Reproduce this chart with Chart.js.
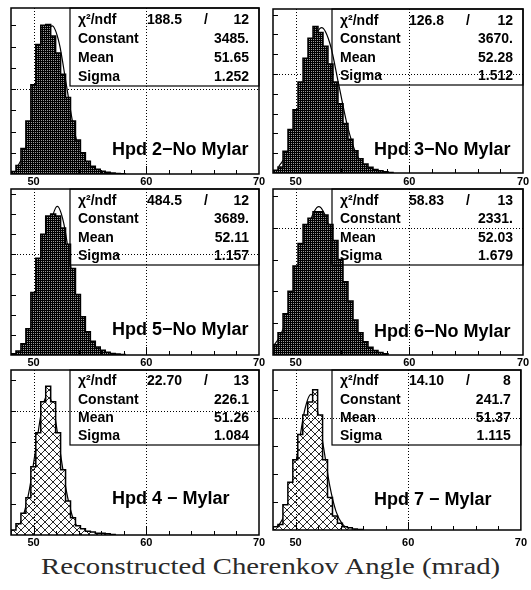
<!DOCTYPE html>
<html>
<head>
<meta charset="utf-8">
<script src="https://cdn.jsdelivr.net/npm/chart.js@4.4.0/dist/chart.umd.min.js"></script>
<style>
  body { margin: 0; width: 531px; height: 590px; background: #fff; position: relative; overflow: hidden; }
  canvas { position: absolute; }
  #xtitle { position: absolute; left: 5px; top: 554px; width: 531px; text-align: center;
    font: 23px "Liberation Serif", serif; color: #2a2a2a; }
  #xtitle span { display: inline-block; transform: scaleX(1.25); }
</style>
</head>
<body>
<div id="xtitle"><span>Reconstructed Cherenkov Angle (mrad)</span></div>
<script>
// bin edges of all histograms (mrad)
const binEdges = [48.00, 48.44, 48.88, 49.32, 49.76, 50.20, 50.64, 51.08, 51.52, 51.96, 52.40, 52.84,
  53.28, 53.72, 54.16, 54.60, 55.04, 55.48, 55.92, 56.36, 56.80, 57.24, 57.68, 58.12, 58.56];
const xLabelTicks = [50, 60, 70];
const xGridValues = [50, 60];
const xMajorTicks = [50, 60];
const xMinorTicks = [52, 54, 56, 58, 62, 64, 66, 68];

// counts per bin
const hpd2Counts = [60, 200, 600, 1250, 2100, 3050, 3500, 3520, 3250, 2850, 2350, 1800, 1250, 800, 500, 300, 180, 110, 65, 40, 22, 12, 6];
const hpd3Counts = [70, 150, 550, 1100, 1600, 2300, 2900, 3400, 3700, 3550, 3200, 2750, 2300, 1750, 1250, 850, 560, 360, 230, 145, 90, 55, 30, 15];
const hpd5Counts = [30, 100, 280, 650, 1550, 2400, 3000, 3450, 3500, 3450, 3150, 2750, 2150, 1500, 950, 580, 340, 200, 120, 70, 40, 22, 12];
const hpd6Counts = [160, 350, 650, 1000, 1400, 1750, 2050, 2150, 2250, 2250, 2200, 2050, 1800, 1500, 1150, 850, 550, 350, 210, 120, 70, 40, 20];
const hpd4Counts = [8, 18, 35, 60, 110, 165, 215, 240, 215, 165, 105, 55, 28, 15, 10, 6, 5, 3, 3, 2, 1];
const hpd7Counts = [6, 10, 45, 85, 125, 170, 205, 228, 250, 205, 125, 58, 25, 12, 6, 4, 2, 1];

// fitted curves
const hpd2FitX = [48.52, 49.15, 49.77, 50.40, 51.02, 51.65, 52.28, 52.90, 53.53, 54.15, 54.78, 55.41];
const hpd2FitY = [153, 472, 1132, 2114, 3076, 3485, 3076, 2114, 1132, 472, 153, 39];
const hpd3FitX = [48.50, 49.26, 50.01, 50.77, 51.52, 52.28, 53.04, 53.79, 54.55, 55.30, 56.06, 56.82];
const hpd3FitY = [161, 497, 1192, 2226, 3239, 3670, 3239, 2226, 1192, 497, 161, 41];
const hpd5FitX = [48.64, 49.22, 49.80, 50.37, 50.95, 51.53, 52.11, 52.69, 53.27, 53.85, 54.42, 55.00, 55.58];
const hpd5FitY = [41, 162, 499, 1198, 2237, 3256, 3689, 3256, 2237, 1198, 499, 162, 41];
const hpd6FitX = [48.00, 48.67, 49.51, 50.35, 51.19, 52.03, 52.87, 53.71, 54.55, 55.39, 56.23, 57.07];
const hpd6FitY = [131, 315, 757, 1414, 2057, 2331, 2057, 1414, 757, 315, 102, 26];
const hpd4FitX = [48.01, 48.55, 49.09, 49.63, 50.18, 50.72, 51.26, 51.80, 52.34, 52.89, 53.43, 53.97, 54.51];
const hpd4FitY = [2.5, 10, 31, 73, 137, 200, 226, 200, 137, 73, 31, 10, 2.5];
const hpd7FitX = [48.03, 48.58, 49.14, 49.70, 50.25, 50.81, 51.37, 51.93, 52.49, 53.04, 53.60, 54.16, 54.72];
const hpd7FitY = [2.7, 10.6, 32.7, 78.5, 146.6, 213.3, 241.7, 213.3, 146.6, 78.5, 32.7, 10.6, 2.7];

// stat box: chi2, ndf, constant, mean, sigma
const statLabels = ["Constant", "Mean", "Sigma"];
const hpd2Stats = ["188.5", "12", "3485.", "51.65", "1.252"];
const hpd3Stats = ["126.8", "12", "3670.", "52.28", "1.512"];
const hpd5Stats = ["484.5", "12", "3689.", "52.11", "1.157"];
const hpd6Stats = ["58.83", "13", "2331.", "52.03", "1.679"];
const hpd4Stats = ["22.70", "13", "226.1", "51.26", "1.084"];
const hpd7Stats = ["14.10", "8", "241.7", "51.37", "1.115"];

const panels = [
  { name: "Hpd 2\u2212No Mylar", counts: hpd2Counts, fitX: hpd2FitX, fitY: hpd2FitY, stats: hpd2Stats, mylar: false,
    frame: [11, 8, 259, 174], yMax: 3906, yStep: 500, yGrid: 2000, boxH: 78, labelUp: 19, tickPad: 1 },
  { name: "Hpd 3\u2212No Mylar", counts: hpd3Counts, fitX: hpd3FitX, fitY: hpd3FitY, stats: hpd3Stats, mylar: false,
    frame: [273, 9, 523, 173], yMax: 4141, yStep: 500, yGrid: 2500, boxH: 76, labelUp: 18, tickPad: 2 },
  { name: "Hpd 5\u2212No Mylar", counts: hpd5Counts, fitX: hpd5FitX, fitY: hpd5FitY, stats: hpd5Stats, mylar: false,
    frame: [11, 189, 259, 355], yMax: 4121, yStep: 500, yGrid: 2500, boxH: 76, labelUp: 20, tickPad: 1 },
  { name: "Hpd 6\u2212No Mylar", counts: hpd6Counts, fitX: hpd6FitX, fitY: hpd6FitY, stats: hpd6Stats, mylar: false,
    frame: [273, 189, 523, 355], yMax: 2608, yStep: 500, yGrid: 2000, boxH: 76, labelUp: 18, tickPad: 1 },
  { name: "Hpd 4 \u2212 Mylar", counts: hpd4Counts, fitX: hpd4FitX, fitY: hpd4FitY, stats: hpd4Stats, mylar: true,
    frame: [11, 370, 259, 535], yMax: 266, yStep: 50, yGrid: 200, boxH: 75, labelUp: 31, tickPad: 1 },
  { name: "Hpd 7 \u2212 Mylar", counts: hpd7Counts, fitX: hpd7FitX, fitY: hpd7FitY, stats: hpd7Stats, mylar: true,
    frame: [273, 370, 523, 530], yMax: 285, yStep: 50, yGrid: 200, boxH: 75, labelUp: 25, tickPad: 6 }
];

const padL = 10, padR = 10, padT = 4, axisH = 16;
const boldFont = (size) => `bold ${size}px "Liberation Sans", Arial, sans-serif`;

function makePattern(mylar) {
  const c = document.createElement("canvas");
  const g = c.getContext("2d");
  if (!mylar) {
    c.width = 2; c.height = 2;
    g.fillStyle = "#000"; g.fillRect(0, 0, 2, 2);
    g.fillStyle = "#9a9a9a"; g.fillRect(0, 0, 1, 1);
  } else {
    c.width = 8; c.height = 8;
    g.fillStyle = "#fff"; g.fillRect(0, 0, 8, 8);
    g.strokeStyle = "#111"; g.lineWidth = 0.9;
    g.beginPath();
    g.moveTo(-1, -1); g.lineTo(9, 9);
    g.moveTo(9, -1); g.lineTo(-1, 9);
    g.stroke();
  }
  return g.createPattern(c, "repeat");
}

const rootPad = {
  id: "rootPad",
  afterDatasetsDraw(chart, args, opts) {
    const p = opts.panel;
    const { ctx, chartArea: a, scales } = chart;
    ctx.save();
    ctx.strokeStyle = "#000";

    // stat box (transparent, as in the original)
    const bx = a.left + 59, by = a.top, bw = a.right - bx;
    ctx.lineWidth = 1.2;
    ctx.strokeRect(bx, by, bw, p.boxH);
    ctx.fillStyle = "#000";
    ctx.font = boldFont(14);
    const rowY = [0.205, 0.45, 0.695, 0.935].map(f => by + p.boxH * f);
    ctx.textAlign = "left";
    ctx.fillText("\u03c7\u00b2/ndf", bx + 8, rowY[0]);
    ctx.fillText(p.stats[0], bx + 77, rowY[0]);
    ctx.fillText("/", bx + 134, rowY[0]);
    statLabels.forEach((s, i) => ctx.fillText(s, bx + 8, rowY[i + 1]));
    ctx.textAlign = "right";
    ctx.fillText(p.stats[1], a.right - 10, rowY[0]);
    for (let i = 2; i < 5; i++) ctx.fillText(p.stats[i], a.right - 10, rowY[i - 1]);

    // pad label
    ctx.textAlign = "left";
    ctx.font = boldFont(18);
    ctx.fillText(p.name, a.left + 101, a.bottom - p.labelUp);

    // dotted grid
    ctx.lineWidth = 1;
    ctx.setLineDash([1, 2]);
    ctx.beginPath();
    xGridValues.forEach(v => {
      const x = Math.round(scales.x.getPixelForValue(v)) + 0.5;
      ctx.moveTo(x, a.top); ctx.lineTo(x, a.bottom);
    });
    const gy = Math.round(scales.y.getPixelForValue(p.yGrid)) + 0.5;
    ctx.moveTo(a.left, gy); ctx.lineTo(a.right, gy);
    ctx.stroke();
    ctx.setLineDash([]);

    // tick marks inside the frame
    ctx.beginPath();
    for (let v = p.yStep; v < p.yMax; v += p.yStep) {
      const y = Math.round(scales.y.getPixelForValue(v)) + 0.5;
      ctx.moveTo(a.left, y); ctx.lineTo(a.left + 5, y);
    }
    xMajorTicks.forEach(v => {
      const x = Math.round(scales.x.getPixelForValue(v)) + 0.5;
      ctx.moveTo(x, a.bottom); ctx.lineTo(x, a.bottom - 8);
    });
    xMinorTicks.forEach(v => {
      const x = Math.round(scales.x.getPixelForValue(v)) + 0.5;
      ctx.moveTo(x, a.bottom); ctx.lineTo(x, a.bottom - 4);
    });
    ctx.stroke();

    // frame
    ctx.lineWidth = 1.5;
    ctx.strokeRect(a.left, a.top, a.width, a.height);
    ctx.restore();
  }
};

panels.forEach((p) => {
  const [l, t, r, b] = p.frame;
  const canvas = document.createElement("canvas");
  canvas.width = (r - l) + padL + padR;
  canvas.height = (b - t) + padT + axisH;
  canvas.style.left = (l - padL) + "px";
  canvas.style.top = (t - padT) + "px";
  document.body.appendChild(canvas);

  const histPoints = [{ x: binEdges[0], y: 0 }]
    .concat(p.counts.map((c, i) => ({ x: binEdges[i], y: c })))
    .concat([{ x: binEdges[p.counts.length], y: 0 }]);
  const fitPoints = p.fitX.map((x, i) => ({ x, y: p.fitY[i] }));

  new Chart(canvas, {
    type: "line",
    data: {
      datasets: [
        {
          data: histPoints,
          stepped: "before",
          fill: "origin",
          backgroundColor: makePattern(p.mylar),
          borderColor: "#000",
          borderWidth: 1.5,
          pointRadius: 0
        },
        {
          data: fitPoints,
          fill: false,
          borderColor: "#000",
          borderWidth: 1.2,
          pointRadius: 0,
          cubicInterpolationMode: "monotone"
        }
      ]
    },
    options: {
      responsive: false,
      animation: false,
      events: [],
      layout: { padding: { left: padL, right: padR, top: padT, bottom: 0 } },
      plugins: { legend: { display: false }, tooltip: { enabled: false }, rootPad: { panel: p } },
      scales: {
        x: {
          type: "linear", min: 48, max: 70,
          afterBuildTicks: (s) => { s.ticks = xLabelTicks.map(v => ({ value: v })); },
          afterFit: (s) => { s.height = axisH; },
          grid: { display: false, drawTicks: false },
          border: { display: false },
          ticks: {
            color: "#000", padding: p.tickPad, autoSkip: false, maxRotation: 0,
            font: { family: "Liberation Sans", weight: "bold", size: 11 },
            callback: (v) => v
          }
        },
        y: { display: false, min: 0, max: p.yMax }
      }
    },
    plugins: [rootPad]
  });
});
</script>
</body>
</html>
